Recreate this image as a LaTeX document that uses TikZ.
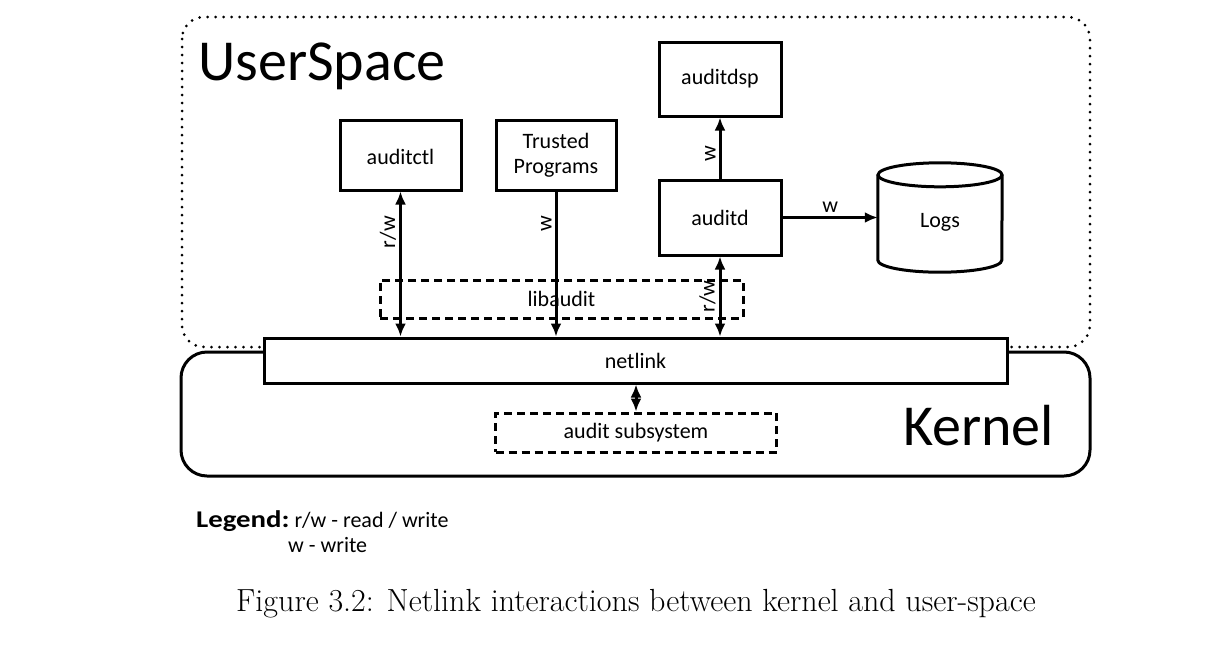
\documentclass[tikz,border=0pt]{standalone}
\usepackage{fontspec}
\usepackage{graphicx}
\setsansfont{Carlito}
\usetikzlibrary{arrows.meta,calc}
\begin{document}
\begin{tikzpicture}[x=1pt,y=-1pt,
  every node/.style={font=\sffamily\fontsize{22}{25}\selectfont, inner sep=0pt},
  box/.style={draw, line width=3pt, fill=white},
  dbox/.style={draw, line width=3pt, dash pattern=on 8pt off 5pt},
  conn/.style={line width=3pt, -{Latex[length=13pt,width=11pt]}},
  bconn/.style={line width=3pt, {Latex[length=13pt,width=11pt]}-{Latex[length=13pt,width=11pt]}},
  lbl/.style={rotate=90, anchor=south, inner sep=3pt},
  big/.style={font=\sffamily\fontsize{58}{66}\selectfont}]
\useasboundingbox (0,0) rectangle (1220,656);
% regions
\draw[line width=3pt, line cap=round, dash pattern=on 0pt off 8pt, rounded corners=22pt]
  (182,17) rectangle (1090,347);
\draw[line width=3pt, fill=white, rounded corners=26pt] (181,352) rectangle (1090,476);
\node[big, anchor=base west] (us) at (198,80) {UserSpace};
\node[big, anchor=base west] (kern) at (903,445) {Kernel};
% boxes
\node[box, minimum width=121pt, minimum height=70pt] (auditctl) at (400.5,155) {\raisebox{-2pt}[\height][0pt]{auditctl}};
\node[box, minimum width=120pt, minimum height=70pt, align=center] (trusted) at (556,155) {Trusted\\Programs};
\node[box, minimum width=122pt, minimum height=74pt] (auditdsp) at (720,79) {auditdsp};
\node[box, minimum width=122pt, minimum height=75pt] (auditd) at (720,217.5) {auditd};
\node[minimum width=124pt, minimum height=109pt] (logs) at (940,217.5) {};
\draw[line width=3pt] ($(logs.north west)+(0,12)$)
  -- ($(logs.south west)+(0,-12)$) arc[start angle=180, end angle=0, x radius=62, y radius=12]
  -- ($(logs.north east)+(0,12)$);
\draw[line width=3pt] ($(logs.north)+(0,12)$) ellipse [x radius=62, y radius=12];
\node (logstext) at ($(logs.center)+(0,5)$) {Logs};
\node[dbox, minimum width=363pt, minimum height=38pt] (libaudit) at (561.5,299) {libaudit};
\node[box, minimum width=743pt, minimum height=45pt] (netlink) at (635.5,360.5) {netlink};
\node[dbox, minimum width=281pt, minimum height=39pt] (sub) at (636,432.5) {audit subsystem};
% connectors
\draw[bconn] (auditctl.south) -- (auditctl.south |- netlink.north)
  node[lbl, pos=0.28] {r/w};
\draw[conn] (trusted.south) -- (trusted.south |- netlink.north)
  node[lbl, pos=0.22] {w};
\draw[bconn] (auditd.south |- netlink.north) -- (auditd.south)
  node[lbl, pos=0.5] {r/w};
\draw[conn] (auditd.north) -- (auditd.north |- auditdsp.south)
  node[lbl, pos=0.4] {w};
\draw[conn] (auditd.east) -- (logs.west)
  node[midway, above, inner sep=4pt] {w};
\draw[bconn] (netlink.south -| sub.north) -- (sub.north);
% legend
\node[anchor=base west] (leg1) at (196,527) {\scalebox{1.2}[1]{\fontsize{24}{26}\selectfont\textbf{Legend:}} r/w - read / write};
\node[anchor=base west] (leg2) at (288,552) {w - write};
% caption
\node[font=\rmfamily\fontsize{32}{36}\selectfont] (cap) at (636,604) {Figure 3.2: Netlink interactions between kernel and user-space};
\end{tikzpicture}
\end{document}
